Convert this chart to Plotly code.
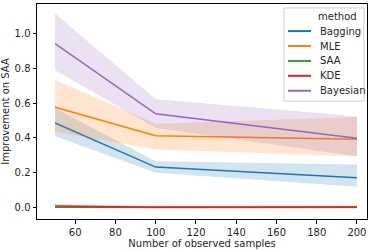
import plotly.graph_objects as go

samples = [50, 100, 200]
methods = ["Bagging", "MLE", "SAA", "KDE", "Bayesian"]
colors = ["#1f77b4", "#ff7f0e", "#2ca02c", "#d62728", "#9467bd"]

mean_vals = {
    "Bagging": [0.486, 0.232, 0.171],
    "MLE": [0.577, 0.413, 0.392],
    "SAA": [0.0, 0.0, 0.0],
    "KDE": [0.008, 0.0, 0.002],
    "Bayesian": [0.943, 0.539, 0.398],
}
upper_vals = {
    "Bagging": [0.571, 0.266, 0.247],
    "MLE": [0.733, 0.482, 0.52],
    "SAA": [0.0, 0.0, 0.0],
    "KDE": [0.018, 0.01, 0.012],
    "Bayesian": [1.117, 0.623, 0.524],
}
lower_vals = {
    "Bagging": [0.41, 0.2, 0.118],
    "MLE": [0.436, 0.333, 0.295],
    "SAA": [0.0, 0.0, 0.0],
    "KDE": [-0.002, -0.01, -0.008],
    "Bayesian": [0.79, 0.457, 0.295],
}

x_ticks = [60, 80, 100, 120, 140, 160, 180, 200]
y_ticks = [0.0, 0.2, 0.4, 0.6, 0.8, 1.0]
legend_title = "method"


def rgba(hexc, a):
    h = hexc.lstrip("#")
    r, g, b = int(h[0:2], 16), int(h[2:4], 16), int(h[4:6], 16)
    return f"rgba({r},{g},{b},{a})"


fig = go.Figure()
for m, c in zip(methods, colors):
    fig.add_trace(go.Scatter(x=samples, y=mean_vals[m], mode="lines",
                             line=dict(color=c, width=1.5), name=m))
    fig.add_trace(go.Scatter(x=samples, y=upper_vals[m], mode="lines",
                             line=dict(width=0), hoverinfo="skip"))
    fig.add_trace(go.Scatter(x=samples, y=lower_vals[m], mode="lines",
                             line=dict(width=0), fill="tonexty",
                             fillcolor=rgba(c, 0.2), hoverinfo="skip"))

font = dict(family="DejaVu Sans", size=10, color="#262626")
axis_common = dict(showline=True, linecolor="black", linewidth=1, mirror=True,
                   ticks="outside", ticklen=3.5, tickwidth=0.8, tickcolor="black",
                   showgrid=False, zeroline=False, tickfont=font)

# Legend drawn in plot-area (paper) coordinates, matplotlib style
W, H = 330.0, 217.0  # plot area size in px
box_l, box_r, box_t, box_b = 247, 327, 4, 98  # px offsets from plot-area top-left
row0, row_step = 12.3, 15.05
line_x0, line_x1, text_x = 251, 274, 281

shapes = [dict(type="rect", xref="paper", yref="paper",
               x0=box_l / W, x1=box_r / W, y0=1 - box_b / H, y1=1 - box_t / H,
               line=dict(color="#d0d0d0", width=1), fillcolor="rgba(255,255,255,0.8)",
               layer="above")]
annotations = [dict(text=legend_title, xref="paper", yref="paper",
                    x=(text_x + 19) / W, y=1 - row0 / H, xanchor="center", yanchor="middle",
                    showarrow=False, font=font)]
for i, (m, c) in enumerate(zip(methods, colors)):
    yy = 1 - (row0 + (i + 1) * row_step) / H
    shapes.append(dict(type="line", xref="paper", yref="paper",
                       x0=line_x0 / W, x1=line_x1 / W, y0=yy, y1=yy,
                       line=dict(color=c, width=2), layer="above"))
    annotations.append(dict(text=m, xref="paper", yref="paper", x=text_x / W, y=yy,
                            xanchor="left", yanchor="middle", showarrow=False, font=font))

fig.update_layout(
    width=375, height=251,
    margin=dict(l=37, r=8, t=3, b=31),
    paper_bgcolor="white", plot_bgcolor="white",
    font=font,
    showlegend=False,
    xaxis=dict(range=[41, 205], tickvals=x_ticks,
               title=dict(text="Number of observed samples", font=font, standoff=3),
               **axis_common),
    yaxis=dict(range=[-0.067, 1.171], tickvals=y_ticks, tickformat=".1f",
               title=dict(text="Improvement on SAA", font=font, standoff=4),
               **axis_common),
    shapes=shapes,
    annotations=annotations,
)

fig.write_html("out.html", config={"displayModeBar": False},
               post_script="document.body.style.margin='0';")
